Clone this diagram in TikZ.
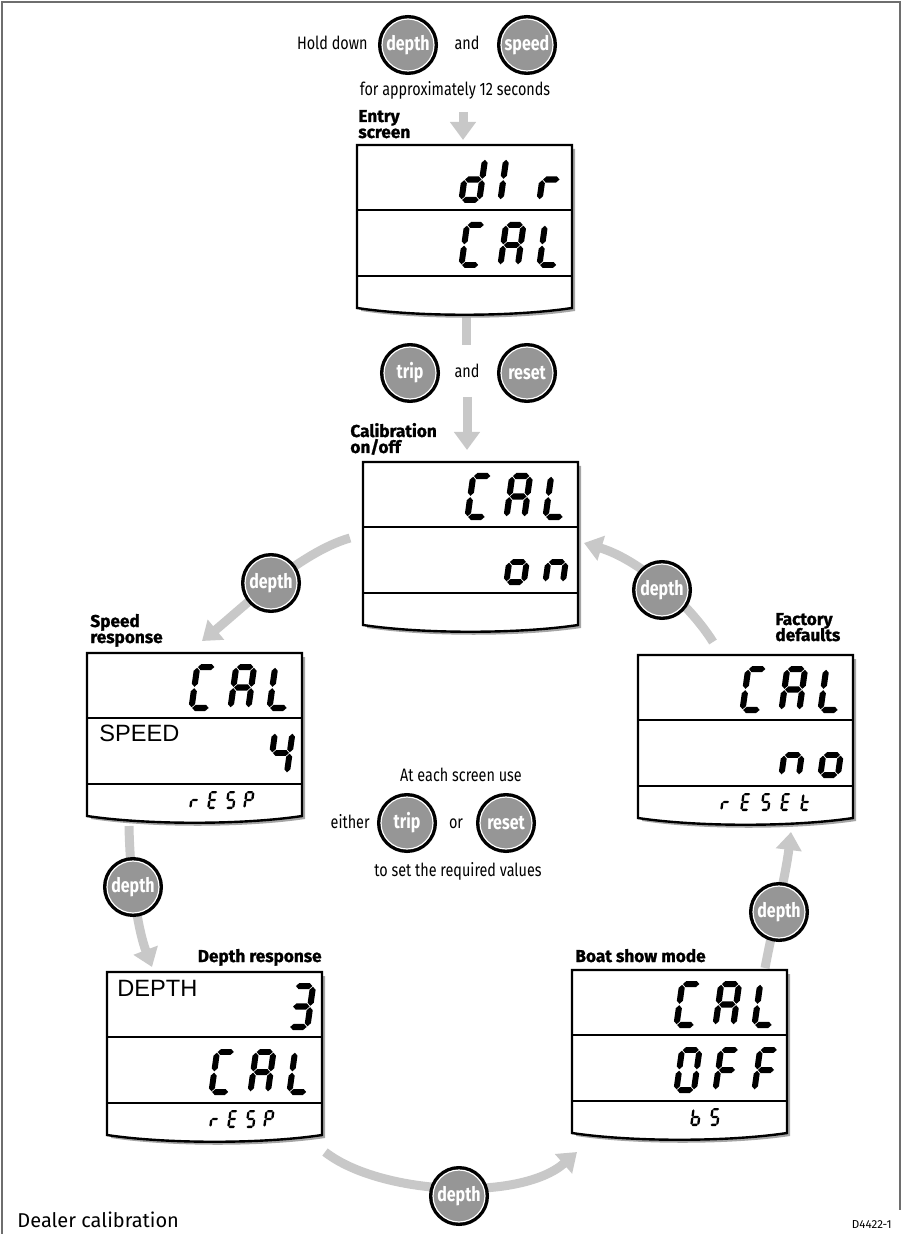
\documentclass[tikz,border=0pt]{standalone}
\usepackage{fontspec}
\setmainfont{Fira Sans}[FakeStretch=0.8]
\newfontfamily\widefont{Fira Sans}
\newfontfamily\heavyfont{Fira Sans}[BoldFeatures={FakeBold=1.2}]
\newfontfamily\lcdfont{Liberation Sans}
\usetikzlibrary{arrows.meta}
\definecolor{flowgray}{RGB}{200,200,200}
\definecolor{btngray}{RGB}{150,150,150}
\definecolor{shadowgray}{RGB}{165,165,165}
\definecolor{framegray}{RGB}{110,110,110}
% seven-segment pieces (local cell 0.5 wide, 1 high)
\def\hseg#1#2#3{\fill (#2,#1) -- ({#2+0.065},{#1+0.065}) -- ({#3-0.065},{#1+0.065}) -- (#3,#1) -- ({#3-0.065},{#1-0.065}) -- ({#2+0.065},{#1-0.065}) -- cycle;}
\def\vseg#1#2#3{\fill (#1,#2) -- ({#1+0.065},{#2+0.065}) -- ({#1+0.065},{#3-0.065}) -- (#1,#3) -- ({#1-0.065},{#3-0.065}) -- ({#1-0.065},{#2+0.065}) -- cycle;}
\def\sgA{\hseg{0.935}{0.08}{0.43}}
\def\sgG{\hseg{0.5}{0.08}{0.43}}
\def\sgD{\hseg{0.065}{0.08}{0.43}}
\def\sgF{\vseg{0.065}{0.515}{0.92}}
\def\sgE{\vseg{0.065}{0.08}{0.485}}
\def\sgB{\vseg{0.445}{0.515}{0.92}}
\def\sgC{\vseg{0.445}{0.08}{0.485}}
\def\gC{\sgA\sgD\sgE\sgF}
\def\gA{\sgA\sgB\sgC\sgE\sgF\sgG}
\def\gL{\sgD\sgE\sgF}
\def\gd{\sgB\sgC\sgD\sgE\sgG}
\def\gI{\sgE\sgF}
\def\gr{\sgE\sgG}
\def\go{\sgC\sgD\sgE\sgG}
\def\gn{\sgC\sgE\sgG}
\def\gfour{\sgB\sgC\sgF\sgG}
\def\gthree{\sgA\sgB\sgC\sgD\sgG}
\def\gO{\sgA\sgB\sgC\sgD\sgE\sgF}
\def\gF{\sgA\sgE\sgF\sgG}
\def\gb{\sgC\sgD\sgE\sgF\sgG}
\def\gS{\sgA\sgC\sgD\sgF\sgG}
\def\gE{\sgA\sgD\sgE\sgF\sgG}
\def\gP{\sgA\sgB\sgE\sgF\sgG}
\def\gt{\sgD\sgE\sgF\sgG}
\newcommand\lcdch[4]{\begin{scope}[shift={({#1},{#2})},xscale=#3,yscale=-#3,xslant=-0.14]#4\end{scope}}
\newcommand\bigrow[6]{\lcdch{#1+101}{#2}{#3}{#4}\lcdch{#1+140}{#2}{#3}{#5}\lcdch{#1+179}{#2}{#3}{#6}}
\newcommand\screen[3]{%
\fill[shadowgray] ({#2+4},{#3+4}) -- ({#2+218},{#3+4}) -- ({#2+218},{#3+166}) .. controls ({#2+158},{#3+175}) and ({#2+63},{#3+175}) .. ({#2+4},{#3+166}) -- cycle;
\filldraw[scrbox] (#2,#3) -- ({#2+215},#3) -- ({#2+215},{#3+163}) .. controls ({#2+155},{#3+172}) and ({#2+60},{#3+172}) .. (#2,{#3+163}) -- cycle;
\draw[scrline] (#2,{#3+65}) -- ({#2+215},{#3+65}) (#2,{#3+131}) -- ({#2+215},{#3+131});
\coordinate (#1) at ({#2+107.5},{#3+82});}
\begin{document}
\begin{tikzpicture}[x=0.5pt,y=-0.5pt,
  scrbox/.style={fill=white,draw=black,line width=1.2pt},
  scrline/.style={draw=black,line width=1.2pt},
  flow/.style={draw=flowgray,line width=4.5pt,-{Triangle[length=9pt,width=12.5pt]}},
  flowstub/.style={draw=flowgray,line width=4.5pt},
  txt/.style={inner sep=0pt,font=\fontsize{9}{10}\selectfont},
  lbl/.style={inner sep=0pt,font=\heavyfont\bfseries\fontsize{8.6}{9}\selectfont},
  lcdtxt/.style={inner sep=0pt,font=\lcdfont\fontsize{11.8}{12}\selectfont},
  btn/.style={circle,inner sep=0pt,minimum size=26pt,fill=btngray,draw=white,line width=0.6pt,
    preaction={draw=black,line width=4pt},text=white,font=\bfseries\fontsize{10}{10}\selectfont}]
\useasboundingbox (0,0) rectangle (902,1234);
% frame
\draw[framegray,line width=0.7pt] (2,1234) -- (2,2) -- (900,2) -- (900,1210);

% ---- connectors ----
\coordinate (c1s) at (463,112); \coordinate (c1e) at (463,140);
\draw[flow] (c1s) -- (c1e);
\coordinate (c2s) at (466,317); \coordinate (c2e) at (466,345);
\draw[flowstub] (c2s) -- (c2e);
\coordinate (c3s) at (467,397); \coordinate (c3e) at (467,450);
\draw[flow] (c3s) -- (c3e);
\coordinate (c4s) at (350,538); \coordinate (c4e) at (202,641);
\draw[flow] (c4s) .. controls (300,552) and (240,610) .. (c4e);
\coordinate (c5s) at (129,826); \coordinate (c5e) at (152,967);
\draw[flow] (c5s) .. controls (130,880) and (138,930) .. (c5e);
\coordinate (c6s) at (325,1152); \coordinate (c6e) at (577,1152);
\draw[flow] (c6s) .. controls (380,1195) and (520,1202) .. (c6e);
\coordinate (c7s) at (765,968); \coordinate (c7e) at (791,832);
\draw[flow] (c7s) .. controls (772,930) and (785,880) .. (c7e);
\coordinate (c8s) at (713,642); \coordinate (c8e) at (584,543);
\draw[flow] (c8s) .. controls (690,605) and (640,560) .. (c8e);

% ---- top instructions ----
\node[txt,anchor=base east] (hold) at (368,50) {Hold down};
\node[btn] (bdepth0) at (408,45) {depth};
\node[txt,anchor=base] (and0) at (467,50) {and};
\node[btn] (bspeed0) at (527,45) {speed};
\node[txt,anchor=base] (approx) at (455,96) {for approximately 12 seconds};

\node[btn] (btrip0) at (410,373) {trip};
\node[txt,anchor=base] (and1) at (467,378) {and};
\node[btn] (breset0) at (527,373) {reset};

% ---- middle instructions ----
\node[txt,anchor=base] (ateach) at (461,781) {At each screen use};
\node[txt,anchor=base east] (either) at (370,828) {either};
\node[btn] (btrip1) at (407,823) {trip};
\node[txt,anchor=base] (or) at (456,828) {or};
\node[btn] (breset1) at (506,823) {reset};
\node[txt,anchor=base] (toset) at (458,876) {to set the required values};

% ---- depth buttons on connectors ----
\node[btn] (bd1) at (271,583) {depth};
\node[btn] (bd2) at (133,887) {depth};
\node[btn] (bd3) at (459,1196) {depth};
\node[btn] (bd4) at (779,912) {depth};
\node[btn] (bd5) at (662,590) {depth};

% ---- screens ----
% entry
\node[lbl,anchor=base west] (lentry1) at (358,122) {Entry};
\node[lbl,anchor=base west] (lentry2) at (358,138) {screen};
\screen{entry}{357}{145}
\bigrow{357}{203}{47}{\gd}{\gI}{\gr}
\bigrow{357}{268}{46}{\gC}{\gA}{\gL}
% calibration on/off
\node[lbl,anchor=base west] (lcal1) at (350,437) {Calibration};
\node[lbl,anchor=base west] (lcal2) at (350,453) {on/off};
\screen{calib}{363}{462}
\bigrow{363}{520}{47}{\gC}{\gA}{\gL}
\bigrow{363}{585}{46}{}{\go}{\gn}
% speed response
\node[lbl,anchor=base west] (lspd1) at (90,627) {Speed};
\node[lbl,anchor=base west] (lspd2) at (90,643) {response};
\screen{speed}{87}{653}
\bigrow{87}{711}{47}{\gC}{\gA}{\gL}
\bigrow{87}{776}{46}{}{}{\gfour}
\node[lcdtxt,anchor=north west] (tspeed) at (99,725) {SPEED};
\lcdch{189}{809}{18}{\gr}\lcdch{207}{809}{18}{\gE}\lcdch{225}{809}{18}{\gS}\lcdch{243}{809}{18}{\gP}
% factory defaults
\node[lbl,anchor=base west] (lfac1) at (775,625) {Factory};
\node[lbl,anchor=base west] (lfac2) at (775,641) {defaults};
\screen{factory}{638}{655}
\bigrow{638}{713}{47}{\gC}{\gA}{\gL}
\bigrow{638}{778}{46}{}{\gn}{\go}
\lcdch{720}{811}{18}{\gr}\lcdch{740}{811}{18}{\gE}\lcdch{760}{811}{18}{\gS}\lcdch{780}{811}{18}{\gE}\lcdch{800}{811}{18}{\gt}
% depth response
\node[lbl,anchor=base east] (ldep) at (322,962) {Depth response};
\screen{depthscr}{107}{972}
\bigrow{107}{1030}{47}{}{}{\gthree}
\node[lcdtxt,anchor=north west] (tdepth) at (117,980) {DEPTH};
\bigrow{107}{1095}{46}{\gC}{\gA}{\gL}
\lcdch{209}{1128}{18}{\gr}\lcdch{227}{1128}{18}{\gE}\lcdch{245}{1128}{18}{\gS}\lcdch{263}{1128}{18}{\gP}
% boat show mode
\node[lbl,anchor=base west] (lboat) at (575,962) {Boat show mode};
\screen{boat}{572}{970}
\bigrow{572}{1028}{47}{\gC}{\gA}{\gL}
\bigrow{572}{1093}{46}{\gO}{\gF}{\gF}
\lcdch{690}{1126}{18}{\gb}\lcdch{709}{1126}{18}{\gS}

% ---- captions ----
\node[inner sep=0pt,anchor=base west,font=\widefont\fontsize{10}{10}\selectfont] (caption) at (17,1227) {Dealer calibration};
\node[inner sep=0pt,anchor=base east,font=\widefont\fontsize{5.8}{6}\selectfont] (figid) at (892,1228) {D4422-1};
\end{tikzpicture}
\end{document}
